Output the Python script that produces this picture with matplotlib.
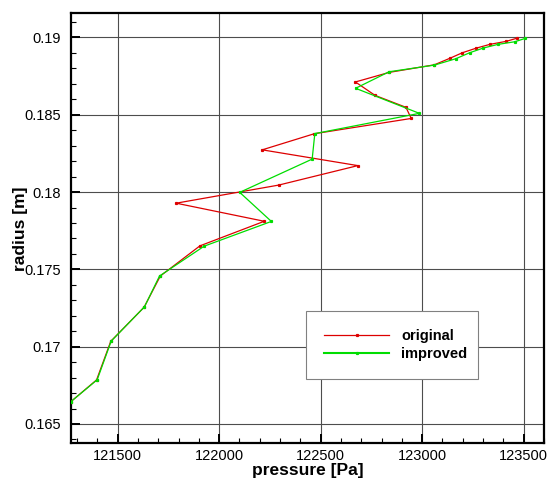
import matplotlib
matplotlib.use('Agg')
import matplotlib.pyplot as plt
from matplotlib.ticker import MultipleLocator, FuncFormatter

plt.rcParams['font.family'] = ['Liberation Sans', 'DejaVu Sans']

# original profile (pressure [Pa], radius [m])
p_orig = [121270, 121396, 121466, 121630, 121710, 121905, 122222, 121788,
          122293, 122683, 122212, 122468, 122946, 122920, 122768, 122671,
          122838, 123060, 123136, 123198, 123267, 123333, 123415, 123469]
r_orig = [0.16645, 0.16785, 0.17035, 0.17255, 0.17457, 0.17652, 0.17811, 0.17928,
          0.18045, 0.18171, 0.18273, 0.18377, 0.18476, 0.18548, 0.18625, 0.18712,
          0.18774, 0.18823, 0.18865, 0.18901, 0.18931, 0.18955, 0.18975, 0.18996]

# improved profile
p_impr = [121270, 121399, 121468, 121632, 121706, 121926, 122257, 122101,
          122458, 122471, 122986, 122672, 122837, 123060, 123165, 123234,
          123300, 123373, 123456, 123508]
r_impr = [0.16645, 0.16786, 0.17036, 0.17258, 0.17457, 0.17650, 0.17810, 0.17998,
          0.18213, 0.18378, 0.18509, 0.18671, 0.18778, 0.18821, 0.18862, 0.18901,
          0.18931, 0.18955, 0.18972, 0.18994]

fig = plt.figure(figsize=(5.48, 4.8), dpi=100)
ax = fig.add_axes([71/548, 1-443/480, 473/548, 430/480])

ax.plot(p_orig, r_orig, color='#dd0000', lw=0.9, marker='s', ms=1.3,
        label='original', zorder=3)
ax.plot(p_impr, r_impr, color='#00dd00', lw=0.9, marker='s', ms=1.3,
        label='improved', zorder=3)

ax.set_xlim(121270, 123600)
ax.set_ylim(0.16377, 0.19158)

ax.xaxis.set_major_locator(MultipleLocator(500))
ax.xaxis.set_minor_locator(MultipleLocator(100))
ax.yaxis.set_major_locator(MultipleLocator(0.005))
ax.yaxis.set_minor_locator(MultipleLocator(0.001))
fmt = FuncFormatter(lambda v, pos: '%g' % round(v, 6))
ax.xaxis.set_major_formatter(fmt)
ax.yaxis.set_major_formatter(fmt)

ax.grid(True, which='major', color='0.3', lw=0.8)
ax.set_axisbelow(True)
ax.tick_params(which='both', direction='in', top=False, right=False,
               labelsize=10.5, color='black')
ax.tick_params(which='major', length=6.5, width=1.4, pad=7)
ax.tick_params(which='minor', length=3.5, width=0.8)
ax.tick_params(axis='x', which='major', pad=4)
for s in ax.spines.values():
    s.set_linewidth(1.6)

fig.text(21/548, 1-229/480, 'radius [m]', rotation=90, ha='center',
         va='center', fontsize=12.5, fontweight='bold')
fig.text(307.5/548, 1-470/480, 'pressure [Pa]', ha='center', va='center',
         fontsize=12.5, fontweight='bold')

leg = ax.legend(loc='lower left', bbox_to_anchor=(0.496, 0.148, 0.364, 0.152),
                mode='expand', fancybox=False, framealpha=1, edgecolor='0.5',
                prop={'weight': 'bold', 'size': 10.5}, handlelength=4.5,
                handletextpad=0.8, borderpad=1.25, labelspacing=0.25,
                borderaxespad=0, markerscale=1)
leg.get_frame().set_linewidth(0.8)
leg.get_lines()[1].set_linewidth(1.5)

fig.savefig('out.png', dpi=100)
